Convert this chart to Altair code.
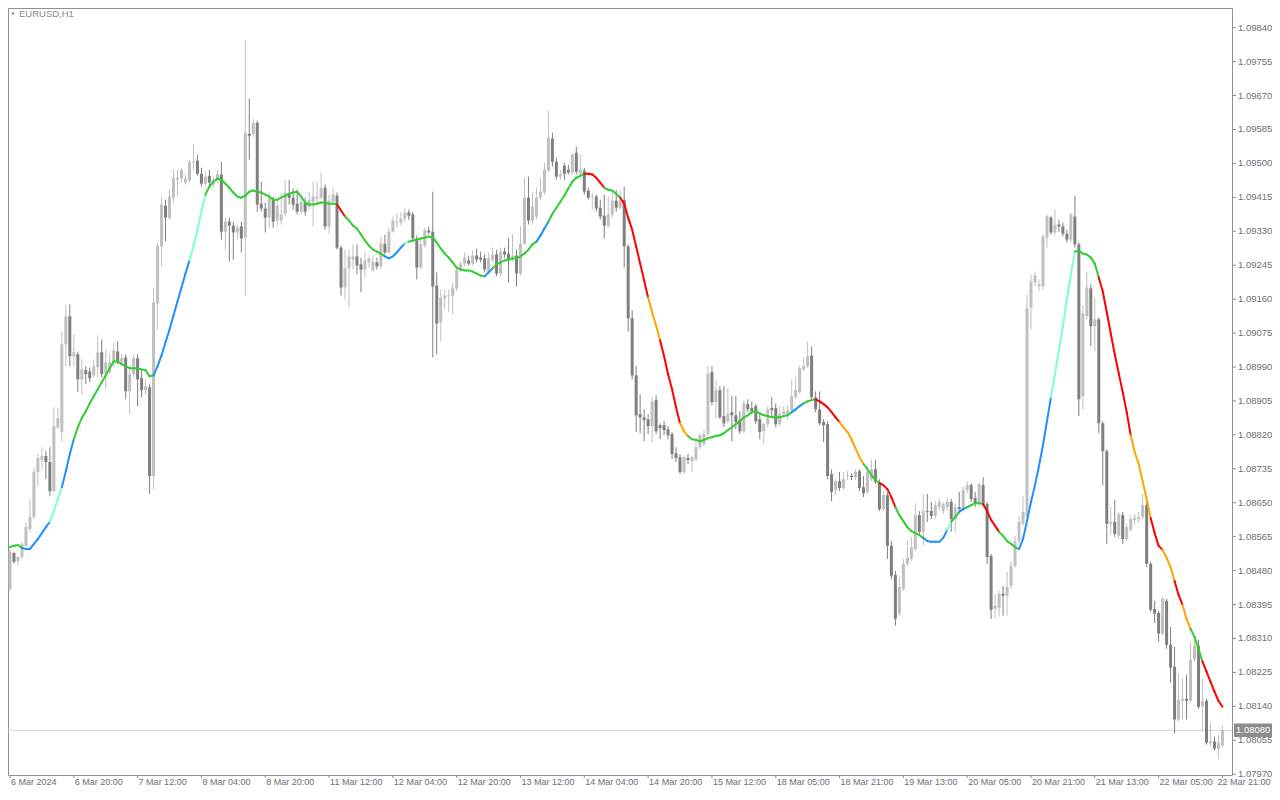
import altair as alt
import pandas as pd

SYMBOL = "EURUSD,H1"
LAST_PRICE = 1.08080

OPEN = [1.08434,1.08524,1.08504,1.08514,1.08542,1.08584,1.08614,1.08727,1.08757,1.08767,
1.08752,1.08679,1.08839,1.08827,1.09047,1.09117,1.09017,1.09022,1.08959,1.08982,
1.08979,1.08969,1.08989,1.09027,1.08972,1.08977,1.09004,1.09029,1.09002,1.09014,
1.08929,1.08972,1.09012,1.08962,1.08932,1.08939,1.08717,1.09149,1.09292,1.09394,
1.09364,1.09414,1.09459,1.09462,1.09452,1.09457,1.09502,1.09507,1.09474,1.09449,
1.09469,1.09447,1.09457,1.09472,1.09329,1.09354,1.09344,1.09327,1.09342,1.09314,
1.09574,1.09574,1.09602,1.09399,1.09387,1.09364,1.09409,1.09357,1.09357,1.09374,
1.09422,1.09414,1.09399,1.09379,1.09402,1.09392,1.09404,1.09412,1.09414,1.09439,
1.09342,1.09404,1.09419,1.09289,1.09189,1.09237,1.09259,1.09267,1.09247,1.09234,
1.09252,1.09232,1.09252,1.09242,1.09299,1.09277,1.09329,1.09352,1.09352,1.09362,
1.09377,1.09372,1.09312,1.09239,1.09294,1.09332,1.09329,1.09194,1.09102,1.09162,
1.09167,1.09167,1.09187,1.09234,1.09249,1.09257,1.09249,1.09269,1.09264,1.09262,
1.09229,1.09259,1.09272,1.09224,1.09279,1.09274,1.09262,1.09269,1.09224,1.09299,
1.09414,1.09357,1.09367,1.09414,1.09427,1.09482,1.09562,1.09504,1.09467,1.09494,
1.09484,1.09477,1.09527,1.09474,1.09482,1.09432,1.09417,1.09417,1.09389,1.09369,
1.09344,1.09372,1.09407,1.09389,1.09409,1.09292,1.09112,1.08969,1.08872,1.08864,
1.08859,1.08842,1.08907,1.08844,1.08844,1.08834,1.08822,1.08774,1.08764,1.08727,
1.08762,1.08754,1.08759,1.08789,1.08797,1.08822,1.08977,1.08902,1.08932,1.08867,
1.08854,1.08877,1.08869,1.08857,1.08829,1.08897,1.08887,1.08892,1.08859,1.08829,
1.08847,1.08887,1.08887,1.08847,1.08872,1.08867,1.08882,1.08914,1.08927,1.08984,
1.08992,1.09019,1.08914,1.08884,1.08852,1.08847,1.08722,1.08682,1.08704,1.08687,
1.08717,1.08717,1.08714,1.08729,1.08689,1.08677,1.08709,1.08734,1.08702,1.08634,
1.08669,1.08542,1.08469,1.08372,1.08434,1.08497,1.08509,1.08534,1.08619,1.08577,
1.08629,1.08629,1.08617,1.08639,1.08629,1.08639,1.08652,1.08609,1.08639,1.08634,
1.08682,1.08694,1.08662,1.08647,1.08694,1.08647,1.08517,1.08384,1.08387,1.08422,
1.08417,1.08442,1.08492,1.08554,1.08597,1.08614,1.09139,1.09202,1.09192,1.09192,
1.09314,1.09364,1.09327,1.09347,1.09342,1.09324,1.09309,1.09367,1.09297,1.08917,
1.09117,1.09187,1.09092,1.09109,1.08849,1.08779,1.08597,1.08602,1.08567,1.08619,
1.08559,1.08582,1.08607,1.08609,1.08614,1.08644,1.08497,1.08384,1.08374,1.08322,
1.08404,1.08294,1.08239,1.08107,1.08154,1.08159,1.08154,1.08257,1.08292,1.08139,
1.08154,1.08047,1.08052,1.08034,1.08042]

HIGH = [1.08539,1.08527,1.08517,1.08552,1.08602,1.08659,1.08739,1.08772,1.08789,1.08779,
1.08789,1.08889,1.08889,1.09079,1.09147,1.09147,1.09072,1.09029,1.09009,1.08992,
1.08989,1.09009,1.09069,1.09059,1.09034,1.09022,1.09052,1.09054,1.09022,1.09022,
1.08992,1.09022,1.09022,1.08984,1.08959,1.08947,1.09189,1.09302,1.09417,1.09409,
1.09434,1.09484,1.09484,1.09489,1.09472,1.09509,1.09549,1.09522,1.09489,1.09479,
1.09484,1.09467,1.09484,1.09504,1.09364,1.09364,1.09354,1.09347,1.09354,1.09807,
1.09662,1.09612,1.09607,1.09454,1.09402,1.09427,1.09417,1.09409,1.09427,1.09459,
1.09459,1.09437,1.09434,1.09414,1.09414,1.09429,1.09454,1.09452,1.09477,1.09447,
1.09422,1.09439,1.09427,1.09294,1.09284,1.09284,1.09297,1.09297,1.09264,1.09277,
1.09267,1.09267,1.09264,1.09317,1.09322,1.09339,1.09367,1.09374,1.09379,1.09387,
1.09384,1.09379,1.09319,1.09309,1.09339,1.09342,1.09429,1.09227,1.09184,1.09184,
1.09184,1.09202,1.09242,1.09254,1.09277,1.09269,1.09282,1.09287,1.09279,1.09272,
1.09277,1.09289,1.09284,1.09289,1.09289,1.09312,1.09322,1.09284,1.09342,1.09464,
1.09467,1.09427,1.09439,1.09464,1.09502,1.09632,1.09577,1.09514,1.09484,1.09502,
1.09497,1.09527,1.09542,1.09522,1.09489,1.09439,1.09427,1.09422,1.09409,1.09422,
1.09417,1.09434,1.09434,1.09434,1.09442,1.09297,1.09132,1.08992,1.08922,1.08884,
1.08872,1.08914,1.08919,1.08849,1.08854,1.08842,1.08827,1.08789,1.08772,1.08769,
1.08772,1.08767,1.08802,1.08824,1.08834,1.08992,1.08992,1.08957,1.08942,1.08942,
1.08937,1.08917,1.08917,1.08879,1.08907,1.08909,1.08904,1.08897,1.08872,1.08852,
1.08892,1.08914,1.08899,1.08892,1.08892,1.08894,1.08959,1.08964,1.08994,1.09014,
1.09054,1.09042,1.08929,1.08929,1.08859,1.08854,1.08734,1.08709,1.08727,1.08727,
1.08729,1.08724,1.08734,1.08734,1.08717,1.08742,1.08757,1.08757,1.08709,1.08679,
1.08677,1.08554,1.08479,1.08464,1.08509,1.08557,1.08564,1.08649,1.08629,1.08672,
1.08672,1.08652,1.08654,1.08662,1.08652,1.08662,1.08659,1.08647,1.08677,1.08692,
1.08704,1.08699,1.08677,1.08699,1.08714,1.08652,1.08522,1.08422,1.08429,1.08442,
1.08477,1.08504,1.08567,1.08617,1.08667,1.09172,1.09222,1.09229,1.09209,1.09322,
1.09372,1.09369,1.09384,1.09359,1.09352,1.09334,1.09377,1.09419,1.09302,1.09144,
1.09229,1.09197,1.09164,1.09114,1.08854,1.08784,1.08639,1.08657,1.08627,1.08627,
1.08597,1.08617,1.08622,1.08627,1.08672,1.08652,1.08502,1.08404,1.08379,1.08414,
1.08409,1.08339,1.08289,1.08224,1.08209,1.08219,1.08302,1.08307,1.08307,1.08209,
1.08159,1.08099,1.08064,1.08069,1.08092]

LOW = [1.08429,1.08497,1.08492,1.08509,1.08539,1.08577,1.08609,1.08689,1.08734,1.08709,
1.08667,1.08677,1.08834,1.08804,1.08992,1.08992,1.08992,1.08927,1.08922,1.08947,
1.08952,1.08964,1.08964,1.08964,1.08934,1.08972,1.08989,1.08997,1.08992,1.08909,
1.08872,1.08964,1.08892,1.08914,1.08922,1.08672,1.08684,1.09084,1.09242,1.09304,
1.09359,1.09402,1.09417,1.09452,1.09447,1.09452,1.09484,1.09469,1.09442,1.09442,
1.09444,1.09439,1.09452,1.09309,1.09284,1.09254,1.09259,1.09309,1.09277,1.09167,
1.09509,1.09567,1.09379,1.09379,1.09327,1.09339,1.09339,1.09342,1.09347,1.09367,
1.09397,1.09384,1.09372,1.09372,1.09369,1.09384,1.09342,1.09397,1.09409,1.09334,
1.09324,1.09397,1.09284,1.09169,1.09159,1.09139,1.09234,1.09222,1.09177,1.09214,
1.09239,1.09229,1.09234,1.09234,1.09272,1.09272,1.09327,1.09339,1.09344,1.09354,
1.09359,1.09304,1.09209,1.09234,1.09289,1.09322,1.09014,1.09022,1.09054,1.09134,
1.09127,1.09122,1.09179,1.09229,1.09242,1.09244,1.09244,1.09252,1.09252,1.09227,
1.09222,1.09254,1.09217,1.09217,1.09264,1.09202,1.09254,1.09192,1.09219,1.09294,
1.09347,1.09347,1.09359,1.09409,1.09422,1.09479,1.09492,1.09459,1.09459,1.09459,
1.09472,1.09472,1.09472,1.09459,1.09422,1.09409,1.09384,1.09379,1.09359,1.09312,
1.09339,1.09364,1.09379,1.09384,1.09239,1.09079,1.08959,1.08827,1.08824,1.08804,
1.08822,1.08802,1.08822,1.08809,1.08819,1.08809,1.08759,1.08752,1.08722,1.08722,
1.08747,1.08727,1.08754,1.08784,1.08792,1.08817,1.08894,1.08862,1.08859,1.08839,
1.08849,1.08804,1.08834,1.08822,1.08824,1.08877,1.08872,1.08847,1.08809,1.08797,
1.08839,1.08864,1.08839,1.08842,1.08864,1.08859,1.08877,1.08909,1.08922,1.08979,
1.08987,1.08909,1.08877,1.08844,1.08802,1.08709,1.08654,1.08669,1.08679,1.08682,
1.08707,1.08707,1.08707,1.08679,1.08664,1.08672,1.08704,1.08697,1.08629,1.08629,
1.08509,1.08459,1.08342,1.08367,1.08429,1.08492,1.08504,1.08529,1.08567,1.08542,
1.08602,1.08609,1.08609,1.08629,1.08622,1.08629,1.08577,1.08577,1.08627,1.08629,
1.08674,1.08652,1.08639,1.08642,1.08639,1.08497,1.08359,1.08359,1.08364,1.08367,
1.08367,1.08434,1.08487,1.08547,1.08592,1.08609,1.09084,1.09192,1.09179,1.09184,
1.09289,1.09322,1.09319,1.09329,1.09317,1.09302,1.09302,1.09289,1.08867,1.08884,
1.09109,1.09042,1.09029,1.08824,1.08694,1.08547,1.08569,1.08564,1.08559,1.08547,
1.08554,1.08577,1.08594,1.08599,1.08609,1.08489,1.08377,1.08349,1.08302,1.08317,
1.08284,1.08199,1.08072,1.08102,1.08107,1.08107,1.08149,1.08252,1.08134,1.08079,
1.08044,1.08039,1.08029,1.08009,1.08037]

CLOSE = [1.08527,1.08502,1.08514,1.08547,1.08589,1.08614,1.08727,1.08762,1.08767,1.08752,
1.08679,1.08842,1.08862,1.09047,1.09117,1.09017,1.09027,1.08959,1.08984,1.08972,
1.08962,1.08992,1.09027,1.08972,1.09002,1.09002,1.09032,1.09002,1.09012,1.08929,
1.08972,1.09012,1.08959,1.08932,1.08942,1.08717,1.09152,1.09294,1.09397,1.09364,
1.09417,1.09464,1.09464,1.09484,1.09462,1.09504,1.09504,1.09474,1.09449,1.09467,
1.09452,1.09459,1.09474,1.09329,1.09354,1.09344,1.09327,1.09339,1.09312,1.09577,
1.09569,1.09602,1.09397,1.09387,1.09364,1.09412,1.09354,1.09394,1.09372,1.09427,
1.09414,1.09397,1.09379,1.09404,1.09379,1.09409,1.09417,1.09417,1.09439,1.09342,
1.09407,1.09422,1.09289,1.09189,1.09237,1.09267,1.09267,1.09244,1.09234,1.09257,
1.09262,1.09254,1.09242,1.09299,1.09277,1.09329,1.09357,1.09354,1.09362,1.09377,
1.09369,1.09312,1.09239,1.09297,1.09332,1.09327,1.09192,1.09099,1.09164,1.09169,
1.09169,1.09187,1.09234,1.09249,1.09264,1.09249,1.09269,1.09259,1.09259,1.09234,
1.09262,1.09272,1.09224,1.09279,1.09272,1.09257,1.09269,1.09224,1.09299,1.09414,
1.09357,1.09392,1.09414,1.09429,1.09484,1.09564,1.09504,1.09467,1.09472,1.09474,
1.09477,1.09522,1.09479,1.09484,1.09429,1.09414,1.09419,1.09387,1.09367,1.09344,
1.09372,1.09407,1.09389,1.09407,1.09292,1.09112,1.08969,1.08869,1.08864,1.08857,
1.08842,1.08904,1.08829,1.08837,1.08832,1.08819,1.08772,1.08762,1.08727,1.08764,
1.08757,1.08764,1.08789,1.08819,1.08822,1.08974,1.08902,1.08932,1.08864,1.08849,
1.08874,1.08869,1.08852,1.08829,1.08899,1.08884,1.08879,1.08854,1.08827,1.08847,
1.08884,1.08882,1.08847,1.08872,1.08879,1.08882,1.08917,1.08932,1.08987,1.08992,
1.09017,1.08914,1.08884,1.08849,1.08844,1.08717,1.08677,1.08704,1.08687,1.08709,
1.08719,1.08714,1.08727,1.08687,1.08674,1.08727,1.08734,1.08702,1.08634,1.08669,
1.08542,1.08467,1.08359,1.08439,1.08497,1.08512,1.08539,1.08619,1.08577,1.08629,
1.08627,1.08617,1.08644,1.08652,1.08647,1.08652,1.08609,1.08639,1.08634,1.08682,
1.08694,1.08659,1.08647,1.08697,1.08647,1.08514,1.08382,1.08392,1.08422,1.08417,
1.08439,1.08492,1.08554,1.08602,1.08627,1.09137,1.09204,1.09219,1.09197,1.09317,
1.09367,1.09327,1.09347,1.09342,1.09324,1.09309,1.09372,1.09297,1.08909,1.09124,
1.09189,1.09092,1.09109,1.08849,1.08779,1.08597,1.08602,1.08572,1.08622,1.08559,
1.08589,1.08609,1.08612,1.08614,1.08644,1.08497,1.08382,1.08372,1.08322,1.08409,
1.08294,1.08237,1.08107,1.08157,1.08159,1.08154,1.08257,1.08292,1.08139,1.08152,
1.08049,1.08052,1.08034,1.08049,1.08080]

LINE = [1.08539,1.08542,1.08544,1.08537,1.08534,1.08534,1.08547,1.08559,1.08574,1.08589,
1.08602,1.08629,1.08659,1.08689,1.08729,1.08772,1.08809,1.08839,1.08862,1.08879,
1.08899,1.08917,1.08934,1.08952,1.08969,1.08987,1.09004,1.09004,1.08997,1.08992,
1.08987,1.08987,1.08987,1.08984,1.08982,1.08967,1.08969,1.08992,1.09019,1.09052,
1.09084,1.09119,1.09154,1.09189,1.09224,1.09257,1.09292,1.09334,1.09379,1.09422,
1.09442,1.09454,1.09462,1.09459,1.09449,1.09439,1.09427,1.09417,1.09414,1.09419,
1.09429,1.09432,1.09429,1.09427,1.09422,1.09417,1.09409,1.09409,1.09414,1.09419,
1.09424,1.09427,1.09429,1.09417,1.09402,1.09397,1.09397,1.09399,1.09402,1.09402,
1.09399,1.09399,1.09397,1.09382,1.09367,1.09357,1.09344,1.09337,1.09322,1.09307,
1.09294,1.09284,1.09279,1.09274,1.09267,1.09262,1.09267,1.09277,1.09289,1.09299,
1.09304,1.09307,1.09309,1.09312,1.09314,1.09317,1.09314,1.09302,1.09287,1.09274,
1.09264,1.09252,1.09239,1.09234,1.09232,1.09232,1.09229,1.09224,1.09219,1.09217,
1.09227,1.09237,1.09247,1.09252,1.09257,1.09259,1.09262,1.09262,1.09267,1.09274,
1.09284,1.09297,1.09304,1.09319,1.09337,1.09354,1.09374,1.09389,1.09404,1.09419,
1.09437,1.09454,1.09464,1.09469,1.09474,1.09474,1.09472,1.09464,1.09452,1.09439,
1.09434,1.09432,1.09424,1.09414,1.09399,1.09364,1.09334,1.09292,1.09249,1.09207,
1.09164,1.09127,1.09094,1.09057,1.09017,1.08972,1.08934,1.08889,1.08849,1.08829,
1.08817,1.08809,1.08807,1.08804,1.08807,1.08812,1.08814,1.08817,1.08819,1.08824,
1.08832,1.08839,1.08847,1.08854,1.08864,1.08869,1.08877,1.08879,1.08874,1.08869,
1.08867,1.08864,1.08864,1.08864,1.08867,1.08869,1.08877,1.08884,1.08892,1.08899,
1.08904,1.08907,1.08909,1.08904,1.08897,1.08889,1.08877,1.08864,1.08852,1.08839,
1.08827,1.08809,1.08787,1.08764,1.08747,1.08734,1.08719,1.08707,1.08699,1.08694,
1.08684,1.08664,1.08639,1.08619,1.08604,1.08589,1.08579,1.08574,1.08569,1.08562,
1.08554,1.08552,1.08552,1.08552,1.08562,1.08582,1.08602,1.08614,1.08627,1.08634,
1.08639,1.08644,1.08649,1.08649,1.08647,1.08629,1.08607,1.08592,1.08577,1.08567,
1.08554,1.08547,1.08539,1.08534,1.08559,1.08604,1.08652,1.08694,1.08742,1.08794,
1.08854,1.08914,1.08972,1.09032,1.09092,1.09159,1.09222,1.09279,1.09282,1.09274,
1.09272,1.09264,1.09249,1.09214,1.09179,1.09127,1.09074,1.09022,1.08974,1.08927,
1.08877,1.08819,1.08777,1.08747,1.08704,1.08659,1.08612,1.08574,1.08542,1.08532,
1.08512,1.08489,1.08454,1.08419,1.08394,1.08359,1.08334,1.08314,1.08284,1.08252,
1.08227,1.08202,1.08177,1.08154,1.08139]

# trend state of the indicator per bar (run lengths)
LINE_RUNS = [("G",4),("B",7),("A",3),("B",3),("G",20),("B",9),("A",4),("G",33),("R",2),("G",10),
             ("B",5),("A",1),("G",19),("B",2),("G",11),("B",3),("G",9),("R",5),("G",4),("R",7),
             ("O",3),("R",5),("O",2),("G",26),("B",3),("G",3),("R",6),("O",6),("G",4),("R",4),
             ("G",7),("B",6),("A",1),("G",2),("B",2),("G",4),("R",4),("G",5),("B",8),("A",6),
             ("G",6),("R",8),("O",5),("R",3),("O",3),("R",2),("O",2),("G",3),("R",5)]
STATE_COLORS = {"G": "#32cd32", "B": "#1e90ff", "A": "#7fffd4", "R": "#ff0000", "O": "#ffa500"}
CANDLE_COLORS = {"up": "#c0c0c0", "down": "#7f7f7f"}

X_LABELS = ["6 Mar 2024", "6 Mar 20:00", "7 Mar 12:00", "8 Mar 04:00", "8 Mar 20:00",
            "11 Mar 12:00", "12 Mar 04:00", "12 Mar 20:00", "13 Mar 12:00", "14 Mar 04:00",
            "14 Mar 20:00", "15 Mar 12:00", "18 Mar 05:00", "18 Mar 21:00", "19 Mar 13:00",
            "20 Mar 05:00", "20 Mar 21:00", "21 Mar 13:00", "22 Mar 05:00", "22 Mar 21:00"]
LABEL_STEP = 16
Y_TICKS = [1.09840, 1.09755, 1.09670, 1.09585, 1.09500, 1.09415, 1.09330, 1.09245, 1.09160,
           1.09075, 1.08990, 1.08905, 1.08820, 1.08735, 1.08650, 1.08565, 1.08480, 1.08395,
           1.08310, 1.08225, 1.08140, 1.08055, 1.07970]

n = len(CLOSE)
codes = "".join(c * k for c, k in LINE_RUNS)

candles = pd.DataFrame({"i": list(range(n)), "open": OPEN, "high": HIGH,
                        "low": LOW, "close": CLOSE})
candles["col"] = [CANDLE_COLORS["up" if c >= o else "down"] for o, c in zip(OPEN, CLOSE)]

segs = pd.DataFrame({"i0": list(range(n - 1)), "i1": list(range(1, n)),
                     "v0": LINE[:-1], "v1": LINE[1:],
                     "col": [STATE_COLORS[c] for c in codes[1:]]})
xlab = pd.DataFrame({"i": [k * LABEL_STEP for k in range(len(X_LABELS))], "lab": X_LABELS})
last_tick = (len(X_LABELS) - 1) * LABEL_STEP
ylab = pd.DataFrame({"v": Y_TICKS, "lab": ["%.5f" % v for v in Y_TICKS]})
one = pd.DataFrame({"k": [0]})

W, H = 1224, 767
FONT = "Liberation Sans"
AX = "#8c8c8c"
TXT = "#6e6e78"
FS = 9.5
FSX = 9

xscale = alt.Scale(domain=[-0.5, 306.4], nice=False, zero=False)
yscale = alt.Scale(domain=[1.07968, 1.0988925], nice=False, zero=False)

X = lambda f: alt.X(f, scale=xscale, axis=None)
Y = lambda f: alt.Y(f, scale=yscale, axis=None)

price_line = alt.Chart(one).mark_rule(color="#d4d4d4", strokeWidth=1).encode(
    y=alt.YDatum(LAST_PRICE, scale=yscale, axis=None))

wicks = alt.Chart(candles).mark_rule(strokeWidth=1, clip=True).encode(
    x=X("i:Q"), y=Y("low:Q"), y2="high:Q", color=alt.Color("col:N", scale=None))

bodies = alt.Chart(candles).mark_rule(strokeWidth=3, strokeCap="butt", clip=True).encode(
    x=X("i:Q"), y=Y("open:Q"), y2="close:Q", color=alt.Color("col:N", scale=None))

indicator = alt.Chart(segs).mark_rule(strokeWidth=2, strokeCap="round", clip=True).encode(
    x=X("i0:Q"), x2="i1:Q", y=Y("v0:Q"), y2="v1:Q", color=alt.Color("col:N", scale=None))

# price scale (right) and time scale (bottom)
y_ticks = alt.Chart(ylab).mark_rule(color=AX, strokeWidth=1).encode(
    y=Y("v:Q"), x=alt.value(W), x2=alt.value(W + 4))
y_text = alt.Chart(ylab).mark_text(align="left", baseline="middle", font=FONT, fontSize=FS,
                                   color=TXT).encode(
    y=Y("v:Q"), x=alt.value(W + 6), text="lab:N")
x_ticks = alt.Chart(xlab).mark_rule(color=AX, strokeWidth=1).encode(
    x=X("i:Q"), y=alt.value(H), y2=alt.value(H + 3))
x_text = alt.Chart(xlab).transform_filter(alt.datum.i < last_tick).mark_text(
    align="left", baseline="top", font=FONT, fontSize=FSX, color=TXT, dx=1).encode(
    x=X("i:Q"), y=alt.value(H + 3), text="lab:N")
x_text_last = alt.Chart(xlab).transform_filter(alt.datum.i == last_tick).mark_text(
    align="left", baseline="top", font=FONT, fontSize=FSX, color=TXT, dx=-5).encode(
    x=X("i:Q"), y=alt.value(H + 3), text="lab:N")

price_box = alt.Chart(one).mark_rect(color="#8c8c8c").encode(
    x=alt.value(W + 2), x2=alt.value(W + 40),
    y=alt.YDatum(LAST_PRICE + 0.00017, axis=None), y2=alt.Y2Datum(LAST_PRICE - 0.00017))

price_text = alt.Chart(one).mark_text(align="left", baseline="middle", color="white",
                                      font=FONT, fontSize=FS).encode(
    x=alt.value(W + 4), y=alt.YDatum(LAST_PRICE, axis=None), text=alt.value("%.5f" % LAST_PRICE))

sym_text = alt.Chart(one).mark_text(align="left", baseline="middle", color="#8a8a8a",
                                    font=FONT, fontSize=FS).encode(
    x=alt.value(11), y=alt.value(6), text=alt.value(SYMBOL))

sym_tri = alt.Chart(one).mark_point(shape="triangle-down", filled=True, size=14,
                                    color="#8a8a8a", opacity=1).encode(
    x=alt.value(5), y=alt.value(6))

chart = alt.layer(price_line, wicks, bodies, indicator, y_ticks, y_text, x_ticks, x_text,
                  x_text_last, price_box, price_text, sym_text, sym_tri).properties(
    width=W, height=H,
    autosize=alt.AutoSizeParams(type="none"),
    padding={"left": 0, "top": 0, "right": 40, "bottom": 13},
    background="white"
).configure_view(stroke="#909090", strokeWidth=1)

chart.save("out.html", embed_options={"renderer": "svg", "actions": False})
